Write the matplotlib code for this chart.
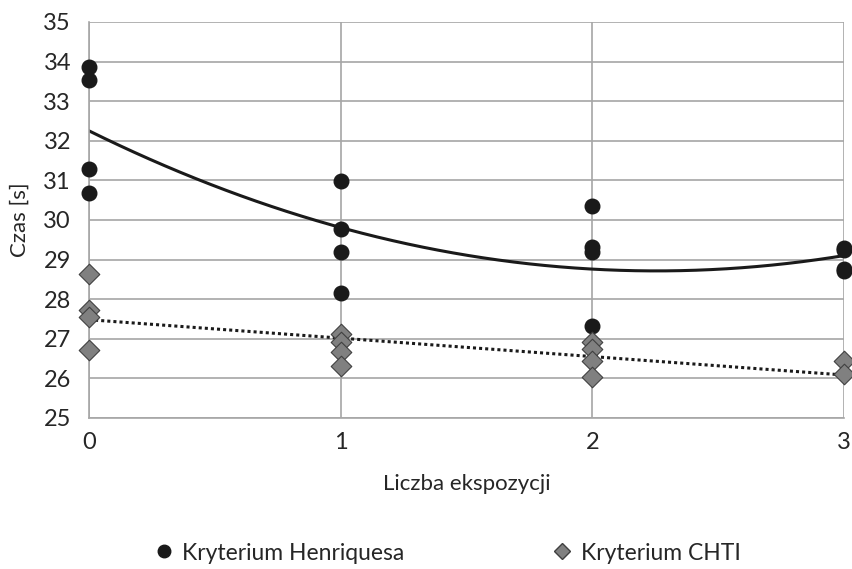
import matplotlib

matplotlib.use("Agg")
import matplotlib.pyplot as plt
import numpy as np

# Kryterium Henriquesa: (liczba ekspozycji, czas [s])
HEN_X = [0, 0, 0, 0, 1, 1, 1, 1, 2, 2, 2, 2, 3, 3, 3, 3]
HEN_Y = [33.87, 33.54, 31.3, 30.68, 30.98, 29.77, 29.19, 28.15,
         30.35, 29.32, 29.2, 27.32, 29.3, 29.25, 28.77, 28.7]
# Kryterium CHTI
CHTI_X = [0, 0, 0, 0, 1, 1, 1, 1, 2, 2, 2, 2, 3, 3]
CHTI_Y = [28.64, 27.72, 27.56, 26.72, 27.12, 26.93, 26.66, 26.32,
          26.93, 26.75, 26.43, 26.03, 26.44, 26.12]

plt.rcParams["font.family"] = ["Lato", "DejaVu Sans"]
TXT = "#262626"

fig = plt.figure(figsize=(8.52, 5.69), dpi=100)
ax = fig.add_axes([89 / 852, 1 - 418 / 569, (844 - 89) / 852, (418 - 22) / 569])

# trend lines (Excel-style): 2nd order polynomial and linear
xs = np.linspace(0, 3, 200)
p2 = np.polyfit(HEN_X, HEN_Y, 2)
p1 = np.polyfit(CHTI_X, CHTI_Y, 1)

ax.scatter(HEN_X, HEN_Y, s=110, color="#1a1a1a", zorder=3, clip_on=False)
ax.scatter(CHTI_X, CHTI_Y, s=110, marker="D", color="#808080", edgecolors="#404040",
           linewidths=0.8, zorder=3, clip_on=False)
ax.plot(xs, np.polyval(p2, xs), color="#1a1a1a", lw=2.2, zorder=2)
ax.plot(xs, np.polyval(p1, xs), color="#1a1a1a", lw=2.2, ls=(0, (1, 1)), zorder=2)

ax.set_xlim(0, 3)
ax.set_ylim(25, 35)
ax.set_xticks([0, 1, 2, 3])
ax.set_yticks(range(25, 36))
ax.grid(True, color="#a6a6a6", lw=1.2)
ax.set_axisbelow(True)
for side in ["top", "right"]:
    ax.spines[side].set_visible(False)
for side in ["left", "bottom"]:
    ax.spines[side].set_color("#a6a6a6")
    ax.spines[side].set_linewidth(1.2)
ax.tick_params(length=0, labelsize=17, colors=TXT)
ax.tick_params(axis="y", pad=13)
ax.tick_params(axis="x", pad=10)
ax.set_xlabel("Liczba ekspozycji", fontsize=16, color=TXT, labelpad=15)
ax.set_ylabel("Czas [s]", fontsize=16, color=TXT, labelpad=10)

h1 = plt.Line2D([], [], ls="", marker="o", color="#1a1a1a", markersize=9)
h2 = plt.Line2D([], [], ls="", marker="D", color="#808080", markeredgecolor="#404040", markersize=8)
fig.legend([h1, h2], ["Kryterium Henriquesa", "Kryterium CHTI"], loc="center left",
           bbox_to_anchor=(155 / 852, 1 - 553 / 569), ncol=2, frameon=False, fontsize=16.5,
           borderpad=0, borderaxespad=0, handlelength=0.75, handletextpad=0.45,
           columnspacing=6.5, labelcolor=TXT)

fig.savefig("out.png", dpi=100)
